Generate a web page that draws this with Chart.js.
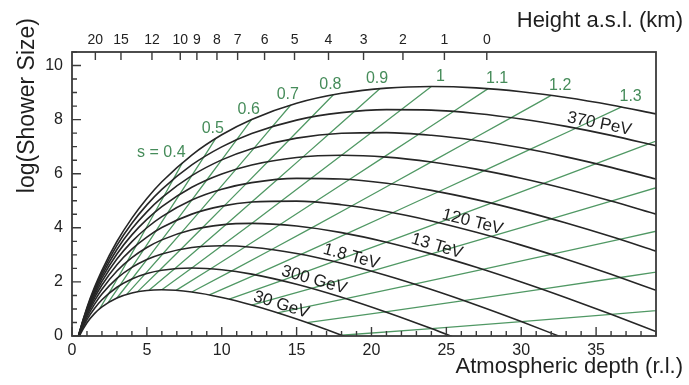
<!DOCTYPE html>
<html>
<head>
<meta charset="utf-8">
<script src="https://cdn.jsdelivr.net/npm/chart.js@4.4.1/dist/chart.umd.min.js"></script>
<style>
html,body{margin:0;padding:0;background:#fff;}
</style>
</head>
<body>
<canvas id="profileChart" width="689" height="385"></canvas>
<script>
const FONT = "'Liberation Sans', Arial, sans-serif";

// depth grid (radiation lengths) shared by the longitudinal profiles
const depthGrid = [0.3,0.5,1,1.5,2,3,4,5,6,8,10,12,15,18,21,24,27,30,33,36,39];

// log10 of shower size along depthGrid, one profile per ln(E0/Ec) = 6, 8, ... 24
const shower06 = [-0.256,0.010,0.492,0.827,1.075,1.403,1.589,1.681,1.708,1.626,1.425,1.144,0.625,0.027,-0.624];
const shower08 = [-0.264,0.038,0.604,1.018,1.340,1.803,2.108,2.307,2.430,2.514,2.451,2.287,1.913,1.433,0.879,0.273,-0.372];
const shower10 = [-0.269,0.060,0.693,1.171,1.553,2.128,2.535,2.827,3.034,3.269,3.334,3.282,3.050,2.688,2.235,1.715,1.144,0.533,-0.109];
const shower12 = [-0.274,0.079,0.767,1.298,1.731,2.402,2.897,3.271,3.554,3.925,4.110,4.163,4.068,3.822,3.469,3.036,2.541,1.997,1.415,0.802,0.162];
const shower14 = [-0.278,0.095,0.831,1.407,1.884,2.638,3.211,3.658,4.010,4.506,4.801,4.953,4.988,4.855,4.600,4.254,3.835,3.360,2.840,2.282,1.692];
const shower16 = [-0.281,0.108,0.886,1.502,2.018,2.846,3.489,4.002,4.416,5.026,5.424,5.670,5.829,5.804,5.645,5.383,5.041,4.635,4.176,3.675,3.137];
const shower18 = [-0.283,0.121,0.935,1.587,2.137,3.032,3.738,4.310,4.781,5.497,5.991,6.324,6.601,6.681,6.615,6.436,6.169,5.831,5.435,4.989,4.503];
const shower20 = [-0.286,0.132,0.979,1.663,2.245,3.200,3.964,4.591,5.114,5.928,6.512,6.927,7.316,7.496,7.520,7.422,7.229,6.958,6.623,6.235,5.801];
const shower22 = [-0.288,0.142,1.019,1.732,2.343,3.353,4.170,4.847,5.419,6.324,6.992,7.486,7.982,8.257,8.368,8.350,8.228,8.024,7.749,7.417,7.035];
const shower24 = [-0.290,0.151,1.055,1.796,2.432,3.494,4.359,5.084,5.701,6.691,7.439,8.006,8.604,8.972,9.166,9.224,9.174,9.033,8.819,8.542,8.212];

// lines of equal shower age s: [depth, log10 size] where each age meets the profiles above
const age04 = [[1.846,1.006],[2.462,1.578],[3.077,2.164],[3.692,2.759],[4.308,3.360],[4.923,3.966],[5.538,4.575],[6.154,5.187],[6.769,5.801],[7.385,6.416]];
const age05 = [[2.4,1.228],[3.2,1.875],[4.0,2.535],[4.8,3.204],[5.6,3.879],[6.4,4.559],[7.2,5.242],[8.0,5.928],[8.8,6.616],[9.6,7.305]];
const age06 = [[3,1.404],[4,2.108],[5,2.827],[6,3.554],[7,4.288],[8,5.026],[9,5.768],[10,6.512],[11,7.258],[12,8.006]];
const age07 = [[3.652,1.537],[4.870,2.286],[6.087,3.049],[7.304,3.821],[8.522,4.599],[9.739,5.382],[10.957,6.168],[12.174,6.957],[13.391,7.748],[14.609,8.540]];
const age08 = [[4.364,1.632],[5.818,2.413],[7.273,3.207],[8.727,4.011],[10.182,4.820],[11.636,5.634],[13.091,6.452],[14.545,7.272],[16.0,8.095],[17.455,8.919]];
const age09 = [[5.143,1.689],[6.857,2.489],[8.571,3.302],[10.286,4.125],[12.0,4.954],[13.714,5.787],[15.429,6.623],[17.143,7.463],[18.857,8.304],[20.571,9.147]];
const age10 = [[6,1.708],[8,2.514],[10,3.334],[12,4.163],[14,4.998],[16,5.838],[18,6.681],[20,7.527],[22,8.375],[24,9.224]];
const age11 = [[6.947,1.688],[9.263,2.488],[11.579,3.301],[13.895,4.124],[16.211,4.952],[18.526,5.785],[20.842,6.621],[23.158,7.460],[25.474,8.302],[27.789,9.145]];
const age12 = [[8,1.627],[10.667,2.406],[13.333,3.198],[16,4.000],[18.667,4.808],[21.333,5.620],[24,6.436],[26.667,7.255],[29.333,8.076],[32,8.898]];
const age13 = [[9.176,1.519],[12.235,2.262],[15.294,3.020],[18.353,3.786],[21.412,4.558],[24.471,5.334],[27.529,6.115],[30.588,6.897],[33.647,7.682],[36.706,8.469]];
const age14 = [[10.5,1.361],[14,2.051],[17.5,2.756],[21,3.469],[24.5,4.188],[28,4.912],[31.5,5.640],[35,6.370],[38.5,7.102],[42,7.836]];
const age15 = [[12,1.144],[16,1.762],[20,2.395],[24,3.036],[28,3.683],[32,4.334],[36,4.990],[40,5.647]];
const age16 = [[13.714,0.859],[18.286,1.383],[22.857,1.920],[27.429,2.466],[32,3.018],[36.571,3.575],[41.143,4.135]];
const age17 = [[15.692,0.493],[20.923,0.894],[26.154,1.309],[31.385,1.733],[36.615,2.163],[41.846,2.598]];
const age18 = [[18,0.027],[24,0.273],[30,0.533],[36,0.802],[42,1.077]];

const ageLabels = ["s = 0.4","0.5","0.6","0.7","0.8","0.9","1","1.1","1.2","1.3"];

// energy tags and the depth where each sits on its profile
const energyNames = ["30 GeV","300 GeV","1.8 TeV","13 TeV","120 TeV","370 PeV"];
const energyCurve = [0,1,2,3,4,8];
const energyTagDepth = [13.8,16.0,18.5,24.2,26.6,35.1];

// axis ticks
const depthTicks = [0,5,10,15,20,25,30,35];
const sizeTicks = [0,2,4,6,8,10];
const heightLabels = ["20","15","12","10","9","8","7","6","5","4","3","2","1","0"];
const heightDepths = [1.56,3.27,5.34,7.23,8.34,9.68,11.06,12.86,14.86,17.13,19.47,22.1,24.87,27.7];

const profiles = [shower06,shower08,shower10,shower12,shower14,shower16,shower18,shower20,shower22,shower24];
const ageLines = [age04,age05,age06,age07,age08,age09,age10,age11,age12,age13,age14,age15,age16,age17,age18];

const profileSets = profiles.map(vals=>({
    data: vals.map((v,i)=>({x:depthGrid[i], y:v})),
    borderColor: "#262626",
    borderWidth: 1.6,
    cubicInterpolationMode: "monotone",
    pointRadius: 0
}));

const ageSets = ageLines.map(pts=>({
    data: pts.map(p=>({x:p[0], y:p[1]})),
    borderColor: "rgb(80,152,100)",
    borderWidth: 1.3,
    tension: 0,
    pointRadius: 0
}));

function curvePoint(meta, px){
    const pts = meta.data;
    for(let i=0;i<pts.length-1;i++){
        const a=pts[i], b=pts[i+1];
        if(px>=a.x && px<=b.x){
            const f=(px-a.x)/(b.x-a.x);
            return {y:a.y+f*(b.y-a.y), ang:Math.atan2(b.y-a.y,b.x-a.x)};
        }
    }
    return null;
}

// frame and inward tick marks, ROOT style
const frameTicks = {
    id:"frameTicks",
    afterDatasetsDraw(chart){
        const {ctx, chartArea:ca, scales} = chart;
        const x = scales.x, y = scales.y;
        ctx.save();
        ctx.strokeStyle = "#3a3a3a";
        ctx.lineWidth = 1.4;
        ctx.beginPath();
        for(let v=0; v<=39; v++){
            const px = x.getPixelForValue(v);
            const len = v%5===0 ? 9 : 5;
            ctx.moveTo(px, ca.bottom); ctx.lineTo(px, ca.bottom-len);
        }
        for(let v=0; v<=10.5; v+=0.5){
            const py = y.getPixelForValue(v);
            const len = v%2===0 ? 9 : 5;
            ctx.moveTo(ca.left, py); ctx.lineTo(ca.left+len, py);
        }
        heightDepths.forEach(d=>{
            const px = x.getPixelForValue(d);
            ctx.moveTo(px, ca.top); ctx.lineTo(px, ca.top+8);
        });
        ctx.stroke();
        ctx.lineWidth = 1.8;
        ctx.strokeRect(ca.left, ca.top, ca.right-ca.left, ca.bottom-ca.top);
        ctx.restore();
    }
};

// energy tags along the profiles and age values at the top of each age line
const curveTags = {
    id:"curveTags",
    afterDatasetsDraw(chart){
        const ctx = chart.ctx, x = chart.scales.x;
        ctx.save();
        ctx.font = "17px " + FONT;
        ctx.fillStyle = "#1e1e1e";
        ctx.textAlign = "center";
        ctx.textBaseline = "middle";
        energyNames.forEach((name,i)=>{
            const meta = chart.getDatasetMeta(energyCurve[i]);
            const px = x.getPixelForValue(energyTagDepth[i]);
            const p = curvePoint(meta, px);
            if(!p) return;
            const off = 9;
            ctx.save();
            ctx.translate(px + Math.sin(p.ang)*off, p.y - Math.cos(p.ang)*off);
            ctx.rotate(p.ang);
            ctx.fillText(name, 0, 0);
            ctx.restore();
        });
        ctx.font = "16px " + FONT;
        ctx.fillStyle = "rgb(70,140,90)";
        ageLabels.forEach((txt,i)=>{
            const meta = chart.getDatasetMeta(profiles.length + i);
            const end = meta.data[meta.data.length-1];
            if(i===0){
                ctx.textAlign = "right";
                ctx.fillText(txt, end.x+3, end.y-10);
            }else{
                ctx.textAlign = "center";
                ctx.fillText(txt, end.x + (i<6 ? -3 : 9), end.y-10);
            }
        });
        ctx.restore();
    }
};

const axisTitles = {
    id:"axisTitles",
    afterDraw(chart){
        const ctx = chart.ctx;
        ctx.save();
        ctx.fillStyle = "#1e1e1e";
        ctx.font = "22px " + FONT;
        ctx.textBaseline = "middle";
        ctx.textAlign = "right";
        ctx.fillText("Atmospheric depth (r.l.)", 683, 367);
        ctx.fillText("Height a.s.l. (km)", 683, 21);
        ctx.translate(28, 18);
        ctx.rotate(-Math.PI/2);
        ctx.font = "23px " + FONT;
        ctx.fillText("log(Shower Size)", 0, 0);
        ctx.restore();
    }
};

new Chart(document.getElementById("profileChart"),{
    type:"line",
    data:{datasets:[...profileSets, ...ageSets]},
    options:{
        responsive:false,
        animation:false,
        devicePixelRatio:1,
        layout:{padding:{left:0,right:33,top:0,bottom:0}},
        plugins:{legend:{display:false}, tooltip:{enabled:false}},
        scales:{
            x:{
                type:"linear", position:"bottom", min:0, max:39,
                grid:{display:false, drawTicks:false},
                border:{display:false},
                ticks:{font:{family:FONT,size:16}, color:"#222", padding:5, maxRotation:0, autoSkip:false},
                afterBuildTicks:s=>{ s.ticks = depthTicks.map(v=>({value:v})); },
                afterFit:s=>{ s.height = 49; }
            },
            x2:{
                type:"linear", position:"top", min:0, max:39,
                grid:{display:false, drawTicks:false},
                border:{display:false},
                ticks:{font:{family:FONT,size:14}, color:"#222", padding:3, maxRotation:0, autoSkip:false,
                    callback:(v,i)=>heightLabels[i]},
                afterBuildTicks:s=>{ s.ticks = heightDepths.map(v=>({value:v})); },
                afterFit:s=>{ s.height = 52; }
            },
            y:{
                type:"linear", min:0, max:10.5,
                grid:{display:false, drawTicks:false},
                border:{display:false},
                ticks:{font:{family:FONT,size:16}, color:"#222", padding:9},
                afterBuildTicks:s=>{ s.ticks = sizeTicks.map(v=>({value:v})); },
                afterFit:s=>{ s.width = 72; }
            }
        }
    },
    plugins:[frameTicks, curveTags, axisTitles]
});
</script>
</body>
</html>
